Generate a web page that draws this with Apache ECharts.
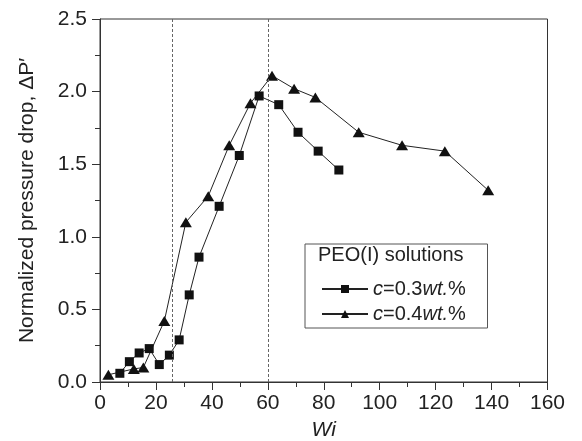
<!DOCTYPE html>
<html>
<head>
<meta charset="utf-8">
<script src="https://cdn.jsdelivr.net/npm/echarts@6/dist/echarts.min.js"></script>
<style>html,body{margin:0;padding:0;background:#fff}#c{width:582px;height:441px}</style>
</head>
<body>
<div id="c"></div>
<script>
// c = 0.3 wt.% (squares)
const wi03 = [7.1, 10.5, 14.0, 17.6, 21.2, 24.8, 28.3, 31.9, 35.4, 42.6, 49.8, 56.9, 63.9, 70.8, 78.0, 85.4];
const dp03 = [0.06, 0.14, 0.20, 0.23, 0.12, 0.185, 0.29, 0.60, 0.86, 1.21, 1.56, 1.97, 1.91, 1.72, 1.59, 1.46];
// c = 0.4 wt.% (triangles)
const wi04 = [3.0, 12.1, 15.5, 23.0, 30.7, 38.7, 46.2, 53.8, 61.5, 69.4, 77.0, 92.5, 108.0, 123.3, 138.8];
const dp04 = [0.05, 0.09, 0.10, 0.42, 1.10, 1.28, 1.63, 1.92, 2.11, 2.02, 1.96, 1.72, 1.63, 1.59, 1.32];
// vertical dashed reference lines
const refLines = [26, 60];
const seriesNames = ['c=0.3wt.%', 'c=0.4wt.%'];
const legendTitle = 'PEO(I) solutions';
const xTitle = 'Wi';
const yTitle = 'Normalized pressure drop, \u0394P\u2032';

const FONT = 'Liberation Sans, Arial, sans-serif';
const chart = echarts.init(document.getElementById('c'), null, {renderer: 'canvas'});
const zip = (a, b) => a.map((v, i) => [v, b[i]]);

chart.setOption({
  animation: false,
  backgroundColor: '#fff',
  textStyle: {fontFamily: FONT},
  grid: {left: 100, right: 34.5, top: 19, bottom: 59, show: true, borderColor: '#333', borderWidth: 1,
         containLabel: false, outerBoundsMode: 'none'},
  xAxis: {
    type: 'value', min: 0, max: 160, interval: 20,
    name: xTitle, nameLocation: 'middle', nameGap: 38,
    nameTextStyle: {fontSize: 21, fontStyle: 'italic', color: '#222', fontFamily: FONT},
    axisLine: {show: true, lineStyle: {color: '#333', width: 1}},
    axisTick: {show: true, length: 8, lineStyle: {color: '#333'}},
    minorTick: {show: true, splitNumber: 2, length: 5, lineStyle: {color: '#333'}},
    axisLabel: {fontSize: 21, color: '#222', margin: 11, fontFamily: FONT},
    splitLine: {show: false}
  },
  yAxis: {
    type: 'value', min: 0, max: 2.5, interval: 0.5,
    name: yTitle, nameLocation: 'middle', nameGap: 62, nameRotate: 90,
    nameTextStyle: {fontSize: 21, color: '#222', fontFamily: FONT},
    axisLine: {show: true, lineStyle: {color: '#333', width: 1}},
    axisTick: {show: true, length: 8, lineStyle: {color: '#333'}},
    minorTick: {show: true, splitNumber: 2, length: 5, lineStyle: {color: '#333'}},
    axisLabel: {fontSize: 21, color: '#222', margin: 13, fontFamily: FONT, formatter: v => v.toFixed(1)},
    splitLine: {show: false}
  },
  legend: {
    orient: 'vertical', left: 316, top: 274,
    itemWidth: 46, itemHeight: 10, itemGap: 5,
    data: seriesNames,
    textStyle: {fontSize: 20, color: '#222', fontFamily: FONT,
      rich: {i: {fontSize: 20, fontStyle: 'italic', color: '#222', fontFamily: FONT},
             n: {fontSize: 20, color: '#222', fontFamily: FONT}}},
    formatter: name => {
      const m = name.match(/^c=([\d.]+)wt\.%$/);
      return '{i|c}{n|=' + m[1] + '}{i|wt.}{n|%}';
    }
  },
  graphic: [
    {type: 'rect', left: 302.5, top: 241.5, shape: {width: 182.5, height: 84}, style: {fill: 'none', stroke: '#555', lineWidth: 1}, z: 5},
    {type: 'text', left: 318, top: 245, style: {text: legendTitle, font: '20px ' + FONT, fill: '#222'}, z: 6}
  ],
  series: [
    {
      name: seriesNames[0], type: 'line', data: zip(wi03, dp03),
      symbol: 'rect', symbolSize: 9,
      lineStyle: {color: '#222', width: 1}, itemStyle: {color: '#111'},
      markLine: {
        silent: true, symbol: 'none', label: {show: false},
        lineStyle: {color: '#666', type: [3, 2], width: 1},
        data: refLines.map(v => ({xAxis: v}))
      }
    },
    {
      name: seriesNames[1], type: 'line', data: zip(wi04, dp04),
      symbol: 'triangle', symbolSize: [12, 10],
      lineStyle: {color: '#222', width: 1}, itemStyle: {color: '#111'}
    }
  ]
});
</script>
</body>
</html>
